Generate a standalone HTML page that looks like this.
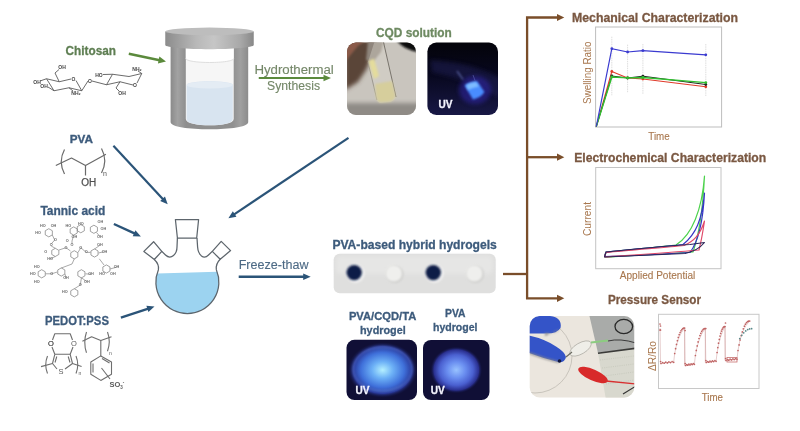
<!DOCTYPE html>
<html><head><meta charset="utf-8">
<style>
html,body{margin:0;padding:0;background:#fff;width:800px;height:431px;overflow:hidden}
svg{display:block;filter:blur(0.45px)}
text{font-family:"Liberation Sans",sans-serif}
</style></head>
<body>
<svg width="800" height="431" viewBox="0 0 800 431">
<defs>
  <linearGradient id="lidg" x1="0" x2="1" y1="0" y2="0">
    <stop offset="0" stop-color="#8c8c8c"/><stop offset="0.35" stop-color="#b8b8b8"/><stop offset="0.55" stop-color="#c6c6c6"/><stop offset="0.85" stop-color="#a8a8a8"/><stop offset="1" stop-color="#888"/>
  </linearGradient>
  <linearGradient id="lidt" x1="0" x2="0" y1="0" y2="1">
    <stop offset="0" stop-color="#b8b8b8"/><stop offset="1" stop-color="#a0a0a0"/>
  </linearGradient>
  <linearGradient id="bodyg" x1="0" x2="1" y1="0" y2="0">
    <stop offset="0" stop-color="#8a8a8a"/><stop offset="0.09" stop-color="#a2a2a2"/><stop offset="0.2" stop-color="#8e8e8e"/><stop offset="0.8" stop-color="#909090"/><stop offset="0.9" stop-color="#a0a0a0"/><stop offset="1" stop-color="#8c8c8c"/>
  </linearGradient>
  <radialGradient id="uv3" cx="0.5" cy="0.5" r="0.5">
    <stop offset="0" stop-color="#b4f0ff"/><stop offset="0.3" stop-color="#6cb0f6"/><stop offset="0.62" stop-color="#3f70da"/><stop offset="0.84" stop-color="#2a3a9c"/><stop offset="1" stop-color="#14143e" stop-opacity="0"/>
  </radialGradient>
  <radialGradient id="uv4" cx="0.5" cy="0.5" r="0.5">
    <stop offset="0" stop-color="#98c2ff"/><stop offset="0.35" stop-color="#6a8ef0"/><stop offset="0.65" stop-color="#4a60d0"/><stop offset="0.86" stop-color="#2a3090"/><stop offset="1" stop-color="#121440" stop-opacity="0"/>
  </radialGradient>
  <radialGradient id="vialg" cx="0.5" cy="0.5" r="0.5">
    <stop offset="0" stop-color="#7ab8ff"/><stop offset="0.6" stop-color="#3a6ae8"/><stop offset="1" stop-color="#1a1a70" stop-opacity="0"/>
  </radialGradient>
  <linearGradient id="uvbg" x1="0" x2="0" y1="0" y2="1">
    <stop offset="0" stop-color="#030308"/><stop offset="0.45" stop-color="#08081f"/><stop offset="1" stop-color="#1a1a4a"/>
  </linearGradient>
  <filter id="blur1" x="-20%" y="-20%" width="140%" height="140%"><feGaussianBlur stdDeviation="1"/></filter>
  <filter id="blur2" x="-30%" y="-30%" width="160%" height="160%"><feGaussianBlur stdDeviation="2"/></filter>
  <clipPath id="cp1"><rect x="347" y="42.5" width="69" height="72.5" rx="9"/></clipPath>
  <clipPath id="cp2"><rect x="427.4" y="42.5" width="70.6" height="72.5" rx="9"/></clipPath>
  <clipPath id="cp3"><rect x="346.5" y="339.8" width="70.5" height="60.2" rx="8"/></clipPath>
  <clipPath id="cp4"><rect x="423" y="340" width="66.5" height="60" rx="8"/></clipPath>
  <clipPath id="cp5"><rect x="529.7" y="316" width="104.5" height="81.5" rx="10"/></clipPath>
</defs>
<text x="65.6" y="55" font-size="13" fill="#5e7e52" font-weight="bold" stroke="#5e7e52" stroke-width="0.3" textLength="50.4" lengthAdjust="spacingAndGlyphs">Chitosan</text>
<text x="69.7" y="143.2" font-size="10.5" fill="#3d5b7c" font-weight="bold" stroke="#3d5b7c" stroke-width="0.3" textLength="23.2" lengthAdjust="spacingAndGlyphs">PVA</text>
<text x="40.4" y="215.4" font-size="12.5" fill="#3d5b7c" font-weight="bold" stroke="#3d5b7c" stroke-width="0.3" textLength="65" lengthAdjust="spacingAndGlyphs">Tannic acid</text>
<text x="45" y="325" font-size="12" fill="#3d5b7c" font-weight="bold" stroke="#3d5b7c" stroke-width="0.3" textLength="63.9" lengthAdjust="spacingAndGlyphs">PEDOT:PSS</text>
<line x1="128.80" y1="53.70" x2="159.64" y2="60.17" stroke="#5b8a3c" stroke-width="2.5"/>
<path d="M166.00,61.50 L157.94,63.39 L159.38,56.54 Z" fill="#5b8a3c"/>
<line x1="113.40" y1="145.80" x2="163.27" y2="199.44" stroke="#2b5478" stroke-width="2.2"/>
<path d="M167.70,204.20 L160.21,200.92 L164.97,196.49 Z" fill="#2b5478"/>
<line x1="348.50" y1="137.90" x2="233.80" y2="214.59" stroke="#2b5478" stroke-width="2.2"/>
<path d="M228.40,218.20 L232.83,211.33 L236.44,216.73 Z" fill="#2b5478"/>
<line x1="113.90" y1="224.00" x2="134.99" y2="233.69" stroke="#2b5478" stroke-width="2.4"/>
<path d="M140.90,236.40 L132.73,236.22 L135.44,230.32 Z" fill="#2b5478"/>
<line x1="120.90" y1="317.60" x2="148.33" y2="308.54" stroke="#2b5478" stroke-width="2.4"/>
<path d="M154.50,306.50 L148.40,311.94 L146.36,305.77 Z" fill="#2b5478"/>
<g id="reactor">
  <path d="M170.6,46 H248.2 V122 C248.2,127 230,129.3 209.4,129.3 C189,129.3 170.6,127 170.6,122 Z" fill="url(#bodyg)"/>
  <path d="M185.8,48 H233.7 V119 C233.7,123.5 222,125.3 209.7,125.3 C197.5,125.3 185.8,123.5 185.8,119 Z" fill="#f6f6f6"/>
  <path d="M186.6,85 C186.6,82.5 198,81.3 209.7,81.3 C221.5,81.3 232.8,82.5 232.8,85 V119 C232.8,123.5 222,125.3 209.7,125.3 C197.5,125.3 186.6,123.5 186.6,119 Z" fill="#d8e4f0"/>
  <ellipse cx="209.7" cy="85" rx="23" ry="3.6" fill="#e4ecf4"/>
  <path d="M185.8,48 H233.7 V58.5 C233.7,61 222,62.5 209.7,62.5 C197.5,62.5 185.8,61 185.8,58.5 Z" fill="#ffffff"/>
  <path d="M185.8,58.5 C185.8,61 197.5,62.5 209.7,62.5 C222,62.5 233.7,61 233.7,58.5" fill="none" stroke="#dedede" stroke-width="1"/>
  <path d="M165.25,31.5 V45 C165.25,47.5 188,49.2 209.5,49.2 C231,49.2 253.75,47.5 253.75,45 V31.5 Z" fill="url(#lidg)"/>
  <ellipse cx="209.5" cy="31.4" rx="44.25" ry="3.8" fill="#bdbdbd"/>
</g>
<text x="254.4" y="74.4" font-size="12.5" fill="#748768" stroke="#748768" stroke-width="0.12" textLength="79.4" lengthAdjust="spacingAndGlyphs">Hydrothermal</text>
<line x1="258.75" y1="78.00" x2="324.50" y2="78.00" stroke="#5b8a3c" stroke-width="2.2"/>
<path d="M331.00,78.00 L323.50,81.25 L323.50,74.75 Z" fill="#5b8a3c"/>
<text x="267" y="90" font-size="12.5" fill="#748768" stroke="#748768" stroke-width="0.12" textLength="53" lengthAdjust="spacingAndGlyphs">Synthesis</text>
<text x="376" y="37" font-size="12.5" fill="#6e8a62" font-weight="bold" stroke="#6e8a62" stroke-width="0.3" textLength="75.8" lengthAdjust="spacingAndGlyphs">CQD solution</text>
<g clip-path="url(#cp1)">
  <rect x="345" y="40" width="75" height="80" fill="#c9c5be"/>
  <path d="M345,40 L376,40 L372,56 L366,70 L358,82 L345,90 Z" fill="#5a4438" filter="url(#blur2)"/>
  <path d="M345,40 L366,40 L358,46 L348,58 L345,62 Z" fill="#8a5a48" filter="url(#blur1)"/>
  <path d="M368,40 L384,40 L381,52 L373,62 L366,60 Z" fill="#8e857c" filter="url(#blur1)"/>
  <path d="M396,40 L420,40 L420,52 Q405,51 396,40 Z" fill="#111" filter="url(#blur1)"/>
  <rect x="345" y="103" width="75" height="20" fill="#8f8b86" filter="url(#blur2)"/>
  <path d="M375,40 L383,40 L396,97 Q394,102 388,102 L380,103 Q377,102 376,98 L368,62 Z" fill="#dcd8cc" opacity="0.4"/>
  <path d="M383,40 L396,97" stroke="#6e6a62" stroke-width="0.9"/>
  <path d="M368,62 L377,100" stroke="#8e8a80" stroke-width="0.8"/>
  <path d="M375,84 L392,81 L395.5,96 Q394,101.5 388,102 L380,102.5 Q377,101.5 376,97 Z" fill="#d6ce9c" filter="url(#blur1)"/>
  <path d="M368.5,61 L374,58.5 L379,76 L374,79 Z" fill="#e4dc9c" filter="url(#blur1)"/>
</g>
<g clip-path="url(#cp2)">
  <rect x="425" y="40" width="75" height="80" fill="url(#uvbg)"/>
  <path d="M430,60 Q470,62 500,78 L500,98 Q470,80 432,72 Z" fill="#22225a" opacity="0.5" filter="url(#blur2)"/>
  <ellipse cx="475" cy="90" rx="16" ry="14" fill="#3028a8" opacity="0.55" filter="url(#blur2)"/>
  <path d="M464.5,85.5 Q469,81.5 477,81 L484.5,92 Q481,97.5 473,99.5 Z" fill="#4a8cff" filter="url(#blur1)"/>
  <path d="M466,85 Q470,82.5 476,82 L479,86.5 Q473,87.5 468,90 Z" fill="#8cc8ff" opacity="0.8" filter="url(#blur1)"/>
  <line x1="457" y1="71" x2="463" y2="79.5" stroke="#8a9ae8" stroke-width="1.2" opacity="0.7" filter="url(#blur1)"/>
  <line x1="473" y1="75" x2="475" y2="80.5" stroke="#6a70c8" stroke-width="1" opacity="0.5"/>
</g>
<text x="438.6" y="108" font-size="11" fill="#f4f4ff" font-weight="bold" stroke="#f4f4ff" stroke-width="0.3" textLength="14" lengthAdjust="spacingAndGlyphs">UV</text>
<g id="flask">
  <path d="M156.99,273.6 L217.15,271.8 A31.5,31.5 0 1 1 156.99,273.6 Z" fill="#9cd3f0"/>
  <g stroke="#5d656c" stroke-width="1.25" fill="none" stroke-linejoin="round">
  <path d="M154.3,259.5 C157.5,262.5 159,266 158.4,269.7 A31.5,31.5 0 1 0 216.35,269.7 C215.8,266 217,262.5 220.2,259.3"/>
  <path d="M161.8,251.4 L165.5,255 Q169.5,258.8 173.5,255.5 Q177,252.5 177,247 L177.4,238"/>
  <path d="M197,238 L197.6,247 Q198,253 201.5,256 Q205,258.5 208.5,255 L212.3,251.4"/>
  <path d="M175.4,219.5 L198.6,219.5 L196.7,238 L177.4,238 Z"/>
  <path d="M153.6,241.7 L161.8,251.4 L154.3,259.5 L143.9,251.4 Z"/>
  <path d="M221.2,241.4 L230.6,250.6 L220.2,259.3 L212.3,251.4 Z"/>
  </g>
</g>
<text x="238.7" y="269.2" font-size="12" fill="#4d6a85" stroke="#4d6a85" stroke-width="0.12" textLength="69.8" lengthAdjust="spacingAndGlyphs">Freeze-thaw</text>
<line x1="238.70" y1="276.70" x2="304.20" y2="276.70" stroke="#2b5478" stroke-width="2.4"/>
<path d="M310.70,276.70 L303.20,279.95 L303.20,273.45 Z" fill="#2b5478"/>
<text x="332.4" y="248.5" font-size="12" fill="#3d5b7c" font-weight="bold" stroke="#3d5b7c" stroke-width="0.3" textLength="164.4" lengthAdjust="spacingAndGlyphs">PVA-based hybrid hydrogels</text>
<rect x="333.7" y="253.8" width="162" height="39.5" rx="6" fill="#dfdfde"/>
<rect x="336" y="256" width="157" height="18" rx="5" fill="#e6e6e5" filter="url(#blur2)"/>
<circle cx="355.4" cy="273.5" r="9.3" fill="#f2f2f2" filter="url(#blur1)"/>
<circle cx="354.2" cy="272.6" r="7.7" fill="#0d1d46" filter="url(#blur1)"/>
<circle cx="434.5" cy="273.5" r="9.3" fill="#f2f2f2" filter="url(#blur1)"/>
<circle cx="433.3" cy="272.6" r="7.7" fill="#0d1d46" filter="url(#blur1)"/>
<circle cx="394.8" cy="274.2" r="8.8" fill="#cfcfcd" filter="url(#blur1)"/>
<circle cx="393.8" cy="273.4" r="8.2" fill="#efefed" filter="url(#blur1)"/>
<circle cx="475.3" cy="274.2" r="8.8" fill="#cfcfcd" filter="url(#blur1)"/>
<circle cx="474.3" cy="273.4" r="8.2" fill="#efefed" filter="url(#blur1)"/>
<text x="348.9" y="319.5" font-size="11.5" fill="#3d5b7c" font-weight="bold" stroke="#3d5b7c" stroke-width="0.3" textLength="67.4" lengthAdjust="spacingAndGlyphs">PVA/CQD/TA</text>
<text x="360" y="334" font-size="11.5" fill="#3d5b7c" font-weight="bold" stroke="#3d5b7c" stroke-width="0.3" textLength="45.7" lengthAdjust="spacingAndGlyphs">hydrogel</text>
<text x="445" y="316.7" font-size="11.5" fill="#3d5b7c" font-weight="bold" stroke="#3d5b7c" stroke-width="0.3" textLength="20.5" lengthAdjust="spacingAndGlyphs">PVA</text>
<text x="433" y="331" font-size="11.5" fill="#3d5b7c" font-weight="bold" stroke="#3d5b7c" stroke-width="0.3" textLength="44.5" lengthAdjust="spacingAndGlyphs">hydrogel</text>
<g clip-path="url(#cp3)">
  <rect x="346" y="339" width="72" height="62" fill="#100f36"/>
  <ellipse cx="382.6" cy="370" rx="35" ry="28" fill="url(#uv3)"/>
  <ellipse cx="382.6" cy="369" rx="29.5" ry="22" fill="none" stroke="#9ac0f8" stroke-width="1" opacity="0.45" filter="url(#blur1)"/>
</g>
<g clip-path="url(#cp4)">
  <rect x="422" y="339" width="69" height="62" fill="#100f36"/>
  <ellipse cx="456.3" cy="370" rx="26" ry="23.5" fill="url(#uv4)"/>
</g>
<text x="355.5" y="394" font-size="11" fill="#f4f4ff" font-weight="bold" stroke="#f4f4ff" stroke-width="0.3" textLength="14" lengthAdjust="spacingAndGlyphs">UV</text>
<text x="430.7" y="394" font-size="11" fill="#f4f4ff" font-weight="bold" stroke="#f4f4ff" stroke-width="0.3" textLength="14" lengthAdjust="spacingAndGlyphs">UV</text>
<g stroke="#7a4e2a" stroke-width="2.3" fill="none">
  <path d="M558,17.5 L527.1,17.5 L527.1,298.3 L558,298.3"/>
  <line x1="527.1" y1="157.2" x2="558" y2="157.2"/>
  <line x1="503" y1="274" x2="527.1" y2="274"/>
</g>
<path d="M564.3,17.5 L557,13.9 L557,21.1 Z" fill="#7a4e2a"/>
<path d="M564.3,157.2 L557,153.6 L557,160.79999999999998 Z" fill="#7a4e2a"/>
<path d="M564.3,298.3 L557,294.7 L557,301.90000000000003 Z" fill="#7a4e2a"/>
<text x="572" y="21.9" font-size="12.5" fill="#7a5842" font-weight="bold" stroke="#7a5842" stroke-width="0.3" textLength="166" lengthAdjust="spacingAndGlyphs">Mechanical Characterization</text>
<text x="574.2" y="161.7" font-size="12.5" fill="#7a5842" font-weight="bold" stroke="#7a5842" stroke-width="0.3" textLength="192" lengthAdjust="spacingAndGlyphs">Electrochemical Characterization</text>
<text x="608" y="303.5" font-size="12.5" fill="#7a5842" font-weight="bold" stroke="#7a5842" stroke-width="0.3" textLength="93" lengthAdjust="spacingAndGlyphs">Pressure Sensor</text>
<rect x="595.6" y="27" width="126" height="100" fill="none" stroke="#bdbdbd" stroke-width="1"/>
<rect x="595.7" y="167.5" width="125.3" height="101.2" fill="none" stroke="#c4c4c4" stroke-width="1"/>
<rect x="658.5" y="314.3" width="100.5" height="74.2" fill="none" stroke="#c8c8c8" stroke-width="1"/>
<g clip-path="url(#cp5)">
  <rect x="528" y="314" width="108" height="86" fill="#ebe6de"/>
  <path d="M589,314 L636,314 L636,348 L598,353 Z" fill="#a9aba9"/>
  <path d="M598,353 L636,348 L636,400 L606,400 Z" fill="#d8d8ce"/>
  <path d="M598,353.2 L636,348.2" stroke="#3a3a38" stroke-width="1.6"/>
  <ellipse cx="623.8" cy="326.5" rx="8.8" ry="7.2" fill="none" stroke="#2a2a2a" stroke-width="1.3"/>
  <path d="M608,341 Q620,338 636,343" stroke="#3a3a3a" stroke-width="1" fill="none"/>
  <circle cx="535" cy="356" r="37" fill="none" stroke="#c4c0b8" stroke-width="0.9"/>
  <path d="M600,360 L634,356 M602,368 L634,364 M604,376 L634,372 M606,384 L634,380" stroke="#c4c6ba" stroke-width="0.8" stroke-dasharray="1 1.2"/>
  <path d="M529,318 Q545,313.5 556,317.5 Q562,321 560.5,328 Q557,334 545,333.5 L529,333.5 Z" fill="#3454c8"/>
  <path d="M545,333 Q556,334 560,329 L545,336 Z" fill="#8a8a8a" filter="url(#blur1)"/>
  <path d="M529,335.5 Q545,339 556,346.5 Q565,352 566,357 Q565,362.5 559,362.3 Q545,359 529,353 Z" fill="#3454c8"/>
  <path d="M529,353 Q545,359 559,362.3" stroke="#8a8a8a" stroke-width="1.5" fill="none" filter="url(#blur1)"/>
  <circle cx="559.5" cy="361" r="1.8" fill="#101840"/>
  <ellipse cx="580.5" cy="348.5" rx="12" ry="5.5" fill="#efeee8" stroke="#b4b2aa" stroke-width="0.8" transform="rotate(-30 580.5 348.5)"/>
  <path d="M566,357 L572,352" stroke="#6a6a60" stroke-width="1.2"/>
  <path d="M591,342.5 L608,340.5" stroke="#8ccc80" stroke-width="2.2"/>
  <ellipse cx="593" cy="375" rx="16" ry="5.5" fill="#d82a2a" transform="rotate(24 593 375)"/>
  <path d="M606,381 L636,384" stroke="#d83030" stroke-width="1.3"/>
  <path d="M623,394 L636,386" stroke="#333" stroke-width="1.2"/>
</g>
<g stroke="#505050" stroke-width="0.85" fill="none" stroke-linejoin="round">
 <path d="M46.5,78.75 L59.25,81.75 L71,79 M76,80.5 L81.75,90.75 L69,87.75 L54,90.75 L46.5,78.75"/>
 <path d="M59.25,81.75 L55,73 L59,69.5"/>
 <path d="M46.5,78.75 L40,81"/>
 <path d="M54,90.75 L48,87"/>
 <path d="M69,87.75 L73,91"/>
 <path d="M81.75,90.75 L88,81"/>
 <path d="M92,81 L106.5,84.75 L112.5,74.25 L129,76.5 L141.75,73.5 L137,83 M133,85 L120,81.75 L106.5,84.75"/>
 <path d="M112.5,74.25 L103,74.5"/>
 <path d="M141.75,73.5 L138,71"/>
 <path d="M120,81.75 L116,88 L119,91"/>
</g>
<text x="62" y="69" font-size="5" fill="#444" text-anchor="middle" font-weight="bold">OH</text>
<text x="37" y="83.5" font-size="5" fill="#444" text-anchor="middle" font-weight="bold">OH</text>
<text x="44" y="88" font-size="5" fill="#444" text-anchor="middle" font-weight="bold">OH</text>
<text x="76" y="94.5" font-size="5" fill="#444" text-anchor="middle" font-weight="bold">NH₂</text>
<text x="73.5" y="81" font-size="5" fill="#444" text-anchor="middle" font-weight="bold">O</text>
<text x="90" y="82.5" font-size="5" fill="#444" text-anchor="middle" font-weight="bold">O</text>
<text x="99" y="76.5" font-size="5" fill="#444" text-anchor="middle" font-weight="bold">HO</text>
<text x="137" y="71" font-size="5" fill="#444" text-anchor="middle" font-weight="bold">NH₂</text>
<text x="135" y="87" font-size="5" fill="#444" text-anchor="middle" font-weight="bold">O</text>
<text x="122" y="94.5" font-size="5" fill="#444" text-anchor="middle" font-weight="bold">OH</text>
<g stroke="#6a6a6a" stroke-width="1.2" fill="none" stroke-linejoin="round">
 <path d="M55.8,165.5 L71.5,158 L85.5,165.5 L105.9,154.3"/>
 <path d="M85.5,165.5 L85.5,175.5"/>
 <path d="M64.5,149.5 Q58,161.5 64.5,174"/>
 <path d="M101.5,148.5 Q108,160.5 101.5,173"/>
</g>
<text x="88.7" y="185.9" font-size="10" fill="#505050" stroke="#505050" stroke-width="0.25" text-anchor="middle">OH</text>
<text x="105" y="176" font-size="7" fill="#555" text-anchor="middle">n</text>
<polygon points="52.35,234.85 48.80,236.90 45.25,234.85 45.25,230.75 48.80,228.70 52.35,230.75" fill="none" stroke="#7a7a7a" stroke-width="0.7"/>
<polygon points="77.25,233.05 73.70,235.10 70.15,233.05 70.15,228.95 73.70,226.90 77.25,228.95" fill="none" stroke="#7a7a7a" stroke-width="0.7"/>
<polygon points="84.35,230.75 80.80,232.80 77.25,230.75 77.25,226.65 80.80,224.60 84.35,226.65" fill="none" stroke="#7a7a7a" stroke-width="0.7"/>
<polygon points="97.45,231.35 93.90,233.40 90.35,231.35 90.35,227.25 93.90,225.20 97.45,227.25" fill="none" stroke="#7a7a7a" stroke-width="0.7"/>
<polygon points="58.85,254.45 55.30,256.50 51.75,254.45 51.75,250.35 55.30,248.30 58.85,250.35" fill="none" stroke="#7a7a7a" stroke-width="0.7"/>
<polygon points="77.85,256.85 74.30,258.90 70.75,256.85 70.75,252.75 74.30,250.70 77.85,252.75" fill="none" stroke="#7a7a7a" stroke-width="0.7"/>
<polygon points="98.05,255.05 94.50,257.10 90.95,255.05 90.95,250.95 94.50,248.90 98.05,250.95" fill="none" stroke="#7a7a7a" stroke-width="0.7"/>
<polygon points="45.25,275.85 41.70,277.90 38.15,275.85 38.15,271.75 41.70,269.70 45.25,271.75" fill="none" stroke="#7a7a7a" stroke-width="0.7"/>
<polygon points="64.85,274.05 61.30,276.10 57.75,274.05 57.75,269.95 61.30,267.90 64.85,269.95" fill="none" stroke="#7a7a7a" stroke-width="0.7"/>
<polygon points="84.95,275.85 81.40,277.90 77.85,275.85 77.85,271.75 81.40,269.70 84.95,271.75" fill="none" stroke="#7a7a7a" stroke-width="0.7"/>
<polygon points="109.95,271.05 106.40,273.10 102.85,271.05 102.85,266.95 106.40,264.90 109.95,266.95" fill="none" stroke="#7a7a7a" stroke-width="0.7"/>
<polygon points="77.85,294.85 74.30,296.90 70.75,294.85 70.75,290.75 74.30,288.70 77.85,290.75" fill="none" stroke="#7a7a7a" stroke-width="0.7"/>
<g stroke="#7a7a7a" stroke-width="0.65" fill="none">
 <path d="M52.3,235 L54.7,240 L51.2,244 M51.2,246 L55.3,248.3 M59,250 L66,247.7 L70.5,251 M78,252.5 L80.8,247.7 L86.2,252.4 L90.5,252.4"/>
 <path d="M73.7,235 L72,241 L72,244 M96.5,232.5 L99.9,236.4 M94.5,249 L99.9,245.3 M98.5,253 L103.4,251.8 M55.3,256.5 L50,258.9"/>
 <path d="M45.5,273.8 L51.8,273.8 L57.2,272 M65,274 L66,277.9 M74.3,258.8 L72,264 L61.3,268 M85.5,273.8 L91,274.3 M81.4,277.8 L86.8,281.5 M99.3,258.8 L104,265 M110,269 L116.5,267.2 M81.4,277.8 L80.3,285 L74.3,288.8"/>
</g>
<text x="42.8" y="226.5" font-size="3.8" font-weight="bold" fill="#6a6a6a" text-anchor="middle">HO</text>
<text x="53.5" y="226.5" font-size="3.8" font-weight="bold" fill="#6a6a6a" text-anchor="middle">OH</text>
<text x="38.2" y="233.5" font-size="3.8" font-weight="bold" fill="#6a6a6a" text-anchor="middle">HO</text>
<text x="55.5" y="241" font-size="3.8" font-weight="bold" fill="#6a6a6a" text-anchor="middle">O</text>
<text x="51.2" y="245.5" font-size="3.8" font-weight="bold" fill="#6a6a6a" text-anchor="middle">O</text>
<text x="68.4" y="226.5" font-size="3.8" font-weight="bold" fill="#6a6a6a" text-anchor="middle">HO</text>
<text x="80.8" y="224.5" font-size="3.8" font-weight="bold" fill="#6a6a6a" text-anchor="middle">HO</text>
<text x="74.3" y="237.5" font-size="3.8" font-weight="bold" fill="#6a6a6a" text-anchor="middle">OH</text>
<text x="67.2" y="241.5" font-size="3.8" font-weight="bold" fill="#6a6a6a" text-anchor="middle">O</text>
<text x="72" y="245.5" font-size="3.8" font-weight="bold" fill="#6a6a6a" text-anchor="middle">O</text>
<text x="100.4" y="223" font-size="3.8" font-weight="bold" fill="#6a6a6a" text-anchor="middle">OH</text>
<text x="103.4" y="230" font-size="3.8" font-weight="bold" fill="#6a6a6a" text-anchor="middle">OH</text>
<text x="99.9" y="237.5" font-size="3.8" font-weight="bold" fill="#6a6a6a" text-anchor="middle">OH</text>
<text x="45.8" y="252.5" font-size="3.8" font-weight="bold" fill="#6a6a6a" text-anchor="middle">O</text>
<text x="66" y="248.5" font-size="3.8" font-weight="bold" fill="#6a6a6a" text-anchor="middle">O</text>
<text x="80.8" y="248.5" font-size="3.8" font-weight="bold" fill="#6a6a6a" text-anchor="middle">O</text>
<text x="86.2" y="253" font-size="3.8" font-weight="bold" fill="#6a6a6a" text-anchor="middle">O</text>
<text x="99.9" y="246" font-size="3.8" font-weight="bold" fill="#6a6a6a" text-anchor="middle">OH</text>
<text x="104.5" y="252.5" font-size="3.8" font-weight="bold" fill="#6a6a6a" text-anchor="middle">OH</text>
<text x="50" y="260" font-size="3.8" font-weight="bold" fill="#6a6a6a" text-anchor="middle">HO</text>
<text x="36.9" y="267.5" font-size="3.8" font-weight="bold" fill="#6a6a6a" text-anchor="middle">HO</text>
<text x="32.8" y="275.3" font-size="3.8" font-weight="bold" fill="#6a6a6a" text-anchor="middle">HO</text>
<text x="36.9" y="282.5" font-size="3.8" font-weight="bold" fill="#6a6a6a" text-anchor="middle">HO</text>
<text x="51.8" y="275" font-size="3.8" font-weight="bold" fill="#6a6a6a" text-anchor="middle">O</text>
<text x="66" y="279" font-size="3.8" font-weight="bold" fill="#6a6a6a" text-anchor="middle">OH</text>
<text x="91" y="275.3" font-size="3.8" font-weight="bold" fill="#6a6a6a" text-anchor="middle">OH</text>
<text x="86.8" y="282.5" font-size="3.8" font-weight="bold" fill="#6a6a6a" text-anchor="middle">OH</text>
<text x="116.5" y="268.2" font-size="3.8" font-weight="bold" fill="#6a6a6a" text-anchor="middle">OH</text>
<text x="112.9" y="275.3" font-size="3.8" font-weight="bold" fill="#6a6a6a" text-anchor="middle">OH</text>
<text x="102.2" y="275.3" font-size="3.8" font-weight="bold" fill="#6a6a6a" text-anchor="middle">HO</text>
<text x="80.3" y="286" font-size="3.8" font-weight="bold" fill="#6a6a6a" text-anchor="middle">O</text>
<text x="64.8" y="293.2" font-size="3.8" font-weight="bold" fill="#6a6a6a" text-anchor="middle">HO</text>
<g stroke="#6e6e6e" stroke-width="1.1" fill="none" stroke-linejoin="round">
 <path d="M52.5,340 L54.8,333.7 L70.2,333.7 L72.5,340"/>
 <path d="M52,347 L54.8,354.3 M73,347 L70.2,354.3"/>
 <path d="M54.8,354.3 L70.2,354.3 L72.5,363.5 L65,369 M57,369 L52.5,363.5 L54.8,354.3 M56.8,356.5 L55,362.5 M68.2,356.5 L70,362.5"/>
 <path d="M41,366.6 L52.5,363.5 M72.5,363.5 L81.6,366.6"/>
 <path d="M47.5,356 Q44,364.8 47.5,373.5 M76,356 Q79.5,364.8 76,373.5"/>
 <path d="M82.4,341.3 L91.6,336.7 L100.8,340.5 L111.5,336.7"/>
 <path d="M86.5,332 Q83,342.4 86.5,352.8 M107.5,332 Q111,341.6 107.5,351.3"/>
 <path d="M100.8,340.5 L100.8,355.9"/>
 <path d="M100.8,355.9 L111.5,362 L111.5,374.2 L100.8,380.4 L90.8,374.2 L90.8,362 Z M93,363.5 L93,372.5 M102,358.5 L109.5,363"/>
 <path d="M101.5,368 L110,379"/>
</g>
<text x="51" y="346" font-size="7.5" fill="#5a5a5a" text-anchor="middle">O</text>
<text x="74" y="346" font-size="7.5" fill="#5a5a5a" text-anchor="middle">O</text>
<text x="61" y="373.5" font-size="7.5" fill="#5a5a5a" text-anchor="middle">S</text>
<text x="79.8" y="374.5" font-size="5" fill="#5a5a5a" text-anchor="middle">n</text>
<text x="110.5" y="355" font-size="5" fill="#5a5a5a" text-anchor="middle">n</text>
<text x="109.5" y="387" font-size="7.5" fill="#5a5a5a" font-weight="bold">SO<tspan font-size="4.5" dy="1.5">3</tspan><tspan font-size="4.5" dy="-5">-</tspan></text>
<text x="51" y="346" font-size="7.5" fill="#5a5a5a" text-anchor="middle">O</text>
<g stroke="#c8c8c8" stroke-width="0.6" stroke-dasharray="1.5 0.8"><line x1="611.8" y1="36.7" x2="611.8" y2="95.3"/><line x1="627.6" y1="44.7" x2="627.6" y2="92.7"/><line x1="642.9" y1="44" x2="642.9" y2="94"/><line x1="705.8" y1="44" x2="705.8" y2="96"/></g>
<path d="M596.3,126.5 L611.8,71.5 L627.6,77.9 L642.9,79 L705.8,86.8" fill="none" stroke="#e03a2a" stroke-width="1.1"/>
<circle cx="611.8" cy="71.5" r="1.4" fill="#e03a2a"/>
<circle cx="627.6" cy="77.9" r="1.4" fill="#e03a2a"/>
<circle cx="642.9" cy="79" r="1.4" fill="#e03a2a"/>
<circle cx="705.8" cy="86.8" r="1.4" fill="#e03a2a"/>
<path d="M596.3,126.5 L611.8,76 L627.6,78 L642.9,76.2 L705.8,84.5" fill="none" stroke="#222" stroke-width="1.0"/>
<circle cx="611.8" cy="76" r="1.4" fill="#222"/>
<circle cx="627.6" cy="78" r="1.4" fill="#222"/>
<circle cx="642.9" cy="76.2" r="1.4" fill="#222"/>
<circle cx="705.8" cy="84.5" r="1.4" fill="#222"/>
<path d="M596.3,126.5 L611.8,77 L627.6,77.9 L642.9,77.5 L705.8,82.6" fill="none" stroke="#30c030" stroke-width="1.4"/>
<circle cx="611.8" cy="77" r="1.4" fill="#30c030"/>
<circle cx="627.6" cy="77.9" r="1.4" fill="#30c030"/>
<circle cx="642.9" cy="77.5" r="1.4" fill="#30c030"/>
<circle cx="705.8" cy="82.6" r="1.4" fill="#30c030"/>
<path d="M596.3,126.5 L611.8,48.7 L627.6,52 L642.9,50.6 L705.8,54.8" fill="none" stroke="#3a3ad0" stroke-width="1.2"/>
<circle cx="611.8" cy="48.7" r="1.4" fill="#3a3ad0"/>
<circle cx="627.6" cy="52" r="1.4" fill="#3a3ad0"/>
<circle cx="642.9" cy="50.6" r="1.4" fill="#3a3ad0"/>
<circle cx="705.8" cy="54.8" r="1.4" fill="#3a3ad0"/>
<text transform="translate(591.3,104) rotate(-90)" font-size="10.5" fill="#a8774e" textLength="62.5" lengthAdjust="spacingAndGlyphs">Swelling Ratio</text>
<text x="648.3" y="139.9" font-size="10.5" fill="#a8774e" stroke="#a8774e" stroke-width="0.12" textLength="21.4" lengthAdjust="spacingAndGlyphs">Time</text>
<g fill="none" stroke-width="1.2" stroke-linejoin="round">
 <path d="M604.5,257 L606,252 C630,249.5 660,247 676,245 C692,235 702,210 704.5,176 C703,205 699,235 693,252 C660,254.5 625,256 604.5,257" stroke="#4cd24c"/>
 <path d="M604.5,256.5 L606,252 C630,249.5 665,246.5 683,244.5 C696,234 702,220 704.5,193 C703,222 698,242 690,252.5 C655,254.5 625,256 604.5,256.5" stroke="#3636c4"/>
 <path d="M604.5,257 L606,252.5 C630,250 665,247.5 684,245.5 C694,241 700,235 704.5,221 C702,238 700,246 699,250 C665,253 625,255.5 604.5,257" stroke="#e04a6a"/>
 <path d="M604.5,257 L606,252 C630,249.5 660,246.5 690,244.5 L704.5,242.5 C700,248 692,252 685,253.5 C650,255 625,256 604.5,257 Z" stroke="#2a2458" stroke-width="1.1"/>
</g>
<text transform="translate(590.5,236) rotate(-90)" font-size="10.5" fill="#a8774e" textLength="34" lengthAdjust="spacingAndGlyphs">Current</text>
<text x="619.8" y="279.2" font-size="10.5" fill="#a8774e" stroke="#a8774e" stroke-width="0.12" textLength="75.5" lengthAdjust="spacingAndGlyphs">Applied Potential</text>
<path d="M660,328 L660.5,363.5 L673.7,362.0 L674.7,353.5 Q677.7,336 684.6,328 L684.6,365.5 M684.6,328 L685.1,365.5 L694.4,364.0 L695.4,355.5 Q698.4,336.5 705.3,328.5 L705.3,362.5 M705.3,328.5 L705.8,362.5 L716.1,361.0 L717.1,352.5 Q720.1,334.5 725,326.5 L725,360.5 M725,326.5 L725.5,360.5 L737,359.0 L738,350.5 Q741,329 749.7,321 L749.7,321" fill="none" stroke="#cc9a9a" stroke-width="0.5"/>
<circle cx="661.0" cy="363.5" r="0.85" fill="#c06464"/>
<circle cx="662.6" cy="362.6" r="0.85" fill="#c06464"/>
<circle cx="664.2" cy="363.2" r="0.85" fill="#c06464"/>
<circle cx="665.8" cy="362.2" r="0.85" fill="#c06464"/>
<circle cx="667.4" cy="362.9" r="0.85" fill="#c06464"/>
<circle cx="668.9" cy="361.9" r="0.85" fill="#c06464"/>
<circle cx="670.5" cy="362.6" r="0.85" fill="#c06464"/>
<circle cx="672.1" cy="361.6" r="0.85" fill="#c06464"/>
<circle cx="673.7" cy="362.3" r="0.85" fill="#c06464"/>
<circle cx="674.7" cy="353.5" r="0.85" fill="#c06464"/>
<circle cx="675.6" cy="348.7" r="0.85" fill="#c06464"/>
<circle cx="676.5" cy="344.4" r="0.85" fill="#c06464"/>
<circle cx="677.4" cy="340.7" r="0.85" fill="#c06464"/>
<circle cx="678.3" cy="337.4" r="0.85" fill="#c06464"/>
<circle cx="679.2" cy="334.7" r="0.85" fill="#c06464"/>
<circle cx="680.1" cy="332.5" r="0.85" fill="#c06464"/>
<circle cx="681.0" cy="330.8" r="0.85" fill="#c06464"/>
<circle cx="681.9" cy="329.5" r="0.85" fill="#c06464"/>
<circle cx="682.8" cy="328.6" r="0.85" fill="#c06464"/>
<circle cx="683.7" cy="328.1" r="0.85" fill="#c06464"/>
<circle cx="684.6" cy="328.0" r="0.85" fill="#c06464"/>
<circle cx="660.6" cy="361.5" r="0.85" fill="#c06464"/>
<circle cx="660.5" cy="330.0" r="0.85" fill="#c06464"/>
<circle cx="685.6" cy="365.5" r="0.85" fill="#c06464"/>
<circle cx="686.7" cy="364.6" r="0.85" fill="#c06464"/>
<circle cx="687.8" cy="365.2" r="0.85" fill="#c06464"/>
<circle cx="688.9" cy="364.2" r="0.85" fill="#c06464"/>
<circle cx="690.0" cy="364.9" r="0.85" fill="#c06464"/>
<circle cx="691.1" cy="363.9" r="0.85" fill="#c06464"/>
<circle cx="692.2" cy="364.6" r="0.85" fill="#c06464"/>
<circle cx="693.3" cy="363.6" r="0.85" fill="#c06464"/>
<circle cx="694.4" cy="364.3" r="0.85" fill="#c06464"/>
<circle cx="695.4" cy="355.5" r="0.85" fill="#c06464"/>
<circle cx="696.3" cy="350.4" r="0.85" fill="#c06464"/>
<circle cx="697.2" cy="345.9" r="0.85" fill="#c06464"/>
<circle cx="698.1" cy="341.9" r="0.85" fill="#c06464"/>
<circle cx="699.0" cy="338.5" r="0.85" fill="#c06464"/>
<circle cx="699.9" cy="335.6" r="0.85" fill="#c06464"/>
<circle cx="700.8" cy="333.3" r="0.85" fill="#c06464"/>
<circle cx="701.7" cy="331.4" r="0.85" fill="#c06464"/>
<circle cx="702.6" cy="330.0" r="0.85" fill="#c06464"/>
<circle cx="703.5" cy="329.1" r="0.85" fill="#c06464"/>
<circle cx="704.4" cy="328.6" r="0.85" fill="#c06464"/>
<circle cx="705.3" cy="328.5" r="0.85" fill="#c06464"/>
<circle cx="685.2" cy="363.5" r="0.85" fill="#c06464"/>
<circle cx="685.1" cy="330.5" r="0.85" fill="#c06464"/>
<circle cx="706.3" cy="362.5" r="0.85" fill="#c06464"/>
<circle cx="707.5" cy="361.6" r="0.85" fill="#c06464"/>
<circle cx="708.8" cy="362.2" r="0.85" fill="#c06464"/>
<circle cx="710.0" cy="361.2" r="0.85" fill="#c06464"/>
<circle cx="711.2" cy="361.9" r="0.85" fill="#c06464"/>
<circle cx="712.4" cy="360.9" r="0.85" fill="#c06464"/>
<circle cx="713.6" cy="361.6" r="0.85" fill="#c06464"/>
<circle cx="714.9" cy="360.6" r="0.85" fill="#c06464"/>
<circle cx="716.1" cy="361.3" r="0.85" fill="#c06464"/>
<circle cx="717.1" cy="352.5" r="0.85" fill="#c06464"/>
<circle cx="717.8" cy="347.6" r="0.85" fill="#c06464"/>
<circle cx="718.5" cy="343.2" r="0.85" fill="#c06464"/>
<circle cx="719.3" cy="339.4" r="0.85" fill="#c06464"/>
<circle cx="720.0" cy="336.1" r="0.85" fill="#c06464"/>
<circle cx="720.7" cy="333.4" r="0.85" fill="#c06464"/>
<circle cx="721.4" cy="331.1" r="0.85" fill="#c06464"/>
<circle cx="722.1" cy="329.3" r="0.85" fill="#c06464"/>
<circle cx="722.8" cy="328.0" r="0.85" fill="#c06464"/>
<circle cx="723.6" cy="327.1" r="0.85" fill="#c06464"/>
<circle cx="724.3" cy="326.6" r="0.85" fill="#c06464"/>
<circle cx="725.0" cy="326.5" r="0.85" fill="#c06464"/>
<circle cx="705.9" cy="360.5" r="0.85" fill="#c06464"/>
<circle cx="705.8" cy="328.5" r="0.85" fill="#c06464"/>
<circle cx="726.0" cy="360.5" r="0.85" fill="#c06464"/>
<circle cx="727.4" cy="359.6" r="0.85" fill="#c06464"/>
<circle cx="728.8" cy="360.2" r="0.85" fill="#c06464"/>
<circle cx="730.1" cy="359.2" r="0.85" fill="#c06464"/>
<circle cx="731.5" cy="359.9" r="0.85" fill="#c06464"/>
<circle cx="732.9" cy="358.9" r="0.85" fill="#c06464"/>
<circle cx="734.2" cy="359.6" r="0.85" fill="#c06464"/>
<circle cx="735.6" cy="358.6" r="0.85" fill="#c06464"/>
<circle cx="737.0" cy="359.3" r="0.85" fill="#c06464"/>
<circle cx="738.0" cy="350.5" r="0.85" fill="#c06464"/>
<circle cx="739.1" cy="344.9" r="0.85" fill="#c06464"/>
<circle cx="740.1" cy="340.0" r="0.85" fill="#c06464"/>
<circle cx="741.2" cy="335.6" r="0.85" fill="#c06464"/>
<circle cx="742.3" cy="331.9" r="0.85" fill="#c06464"/>
<circle cx="743.3" cy="328.8" r="0.85" fill="#c06464"/>
<circle cx="744.4" cy="326.2" r="0.85" fill="#c06464"/>
<circle cx="745.4" cy="324.2" r="0.85" fill="#c06464"/>
<circle cx="746.5" cy="322.7" r="0.85" fill="#c06464"/>
<circle cx="747.6" cy="321.7" r="0.85" fill="#c06464"/>
<circle cx="748.6" cy="321.2" r="0.85" fill="#c06464"/>
<circle cx="749.7" cy="321.0" r="0.85" fill="#c06464"/>
<circle cx="725.6" cy="358.5" r="0.85" fill="#c06464"/>
<circle cx="725.5" cy="323.0" r="0.85" fill="#c06464"/>
<rect x="727" y="357.5" width="10" height="4.5" fill="none" stroke="#c87070" stroke-width="0.8"/>
<circle cx="739.8" cy="338.6" r="0.9" fill="#5a8a8a"/>
<circle cx="741.8" cy="335.3" r="0.9" fill="#5a8a8a"/>
<circle cx="743.7" cy="332.8" r="0.9" fill="#5a8a8a"/>
<circle cx="745.7" cy="330.9" r="0.9" fill="#5a8a8a"/>
<circle cx="747.7" cy="329.6" r="0.9" fill="#5a8a8a"/>
<circle cx="749.6" cy="328.9" r="0.9" fill="#5a8a8a"/>
<circle cx="751.6" cy="328.7" r="0.9" fill="#5a8a8a"/>
<circle cx="660.0" cy="324.0" r="0.85" fill="#c06464"/>
<circle cx="660.5" cy="326.0" r="0.85" fill="#c06464"/>
<circle cx="660.0" cy="330.0" r="0.85" fill="#c06464"/>
<text transform="translate(655.5,371) rotate(-90)" font-size="10.5" fill="#a8774e" textLength="30" lengthAdjust="spacingAndGlyphs">ΔR/Ro</text>
<text x="701.7" y="400.8" font-size="10.5" fill="#a8774e" stroke="#a8774e" stroke-width="0.12" textLength="21.2" lengthAdjust="spacingAndGlyphs">Time</text>
</svg>
</body></html>
